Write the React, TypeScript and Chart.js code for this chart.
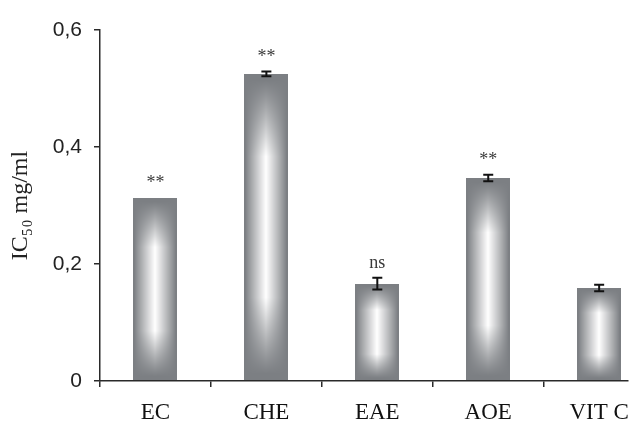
import React, { useEffect, useRef } from "react";
import { Chart, registerables } from "chart.js";

Chart.register(...registerables);

// ---- data ----
const categories = ["EC", "CHE", "EAE", "AOE", "VIT C"];
const ic50 = [0.313, 0.525, 0.1665, 0.347, 0.159];
const sem = [0, 0.004, 0.0102, 0.0055, 0.0057];
const significance = ["**", "**", "ns", "**", ""];
const yTicks = [0, 0.2, 0.4, 0.6];
const yTickLabels = ["0", "0,2", "0,4", "0,6"];
const categoryBoundaries = [0, 1, 2, 3, 4];
const xAxisMax = 4.76; // visible part of the category axis (in category units)

const AXIS_COLOR = "#2a2a2a";

function drawGradientBar(ctx: CanvasRenderingContext2D, left: number, top: number, right: number, bottom: number) {
  const x0 = Math.round(left);
  const y0 = Math.round(top);
  const w = Math.max(1, Math.round(right) - x0);
  const h = Math.max(1, Math.round(bottom) - y0);
  const off = document.createElement("canvas");
  off.width = w;
  off.height = h;
  const octx = off.getContext("2d")!;
  const img = octx.createImageData(w, h);
  const edge = [124, 127, 131];
  for (let yy = 0; yy < h; yy++) {
    const ty = 1 - Math.abs(yy + 0.5 - h / 2) / (h / 2);
    const gy = Math.pow(Math.min(1, Math.max(0, (ty - 0.04) / 0.5)), 1.1);
    for (let xx = 0; xx < w; xx++) {
      const tx = 1 - Math.abs(xx + 0.5 - w / 2) / (w / 2);
      const fx = Math.pow(Math.max(0, (tx - 0.06) / 0.94), 0.95);
      const k = fx * gy;
      const idx = (yy * w + xx) * 4;
      img.data[idx] = Math.round(edge[0] + (255 - edge[0]) * k);
      img.data[idx + 1] = Math.round(edge[1] + (255 - edge[1]) * k);
      img.data[idx + 2] = Math.round(edge[2] + (255 - edge[2]) * k);
      img.data[idx + 3] = 255;
    }
  }
  octx.putImageData(img, 0, 0);
  ctx.drawImage(off, x0, y0);
}

const overlayPlugin = {
  id: "barOverlay",
  afterDatasetsDraw(chart: any) {
    const ctx: CanvasRenderingContext2D = chart.ctx;
    const meta = chart.getDatasetMeta(0);
    const yScale = chart.scales.y;
    ctx.save();
    meta.data.forEach((el: any, i: number) => {
      const p = el.getProps(["x", "y", "base", "width"], true);
      const left = p.x - p.width / 2;
      const right = p.x + p.width / 2;
      drawGradientBar(ctx, left, Math.min(p.y, p.base), right, Math.max(p.y, p.base));

      const v = ic50[i];
      const e = sem[i];
      if (e > 0) {
        const yTop = yScale.getPixelForValue(v + e);
        const yBot = yScale.getPixelForValue(v - e);
        ctx.strokeStyle = "#111";
        ctx.lineWidth = 2;
        ctx.beginPath();
        ctx.moveTo(p.x, yTop);
        ctx.lineTo(p.x, yBot);
        ctx.moveTo(p.x - 5, yTop);
        ctx.lineTo(p.x + 5, yTop);
        ctx.moveTo(p.x - 5, yBot);
        ctx.lineTo(p.x + 5, yBot);
        ctx.stroke();
      }
      const label = significance[i];
      if (label) {
        const yRef = yScale.getPixelForValue(v + e);
        ctx.font = '18px "Liberation Serif"';
        ctx.fillStyle = "#3a3a3a";
        ctx.textAlign = "center";
        ctx.textBaseline = "alphabetic";
        ctx.fillText(label, p.x, yRef - 10);
      }
    });
    ctx.restore();
  },
};

export default function App() {
  const canvasRef = useRef<HTMLCanvasElement | null>(null);

  useEffect(() => {
    if (!canvasRef.current) return;
    const chart = new Chart(canvasRef.current, {
      type: "bar",
      data: {
        datasets: [
          {
            data: categories.map((_, i) => ({ x: i + 0.5, y: ic50[i] })),
            backgroundColor: "rgba(0,0,0,0)",
            borderWidth: 0,
            barThickness: 44,
            xAxisID: "x",
            yAxisID: "y",
          },
        ],
      },
      options: {
        animation: false,
        responsive: false,
        devicePixelRatio: 1,
        layout: { padding: { top: 30, right: 15, left: 0, bottom: 0 } },
        plugins: {
          legend: { display: false },
          tooltip: { enabled: false },
          title: { display: false },
        },
        scales: {
          x: {
            type: "linear",
            position: "bottom",
            offset: false,
            min: 0,
            max: xAxisMax,
            z: 1,
            afterBuildTicks: (scale: any) => {
              scale.ticks = categoryBoundaries.map((v) => ({ value: v }));
            },
            afterFit: (scale: any) => {
              scale.height = 6;
            },
            grid: {
              offset: false,
              drawOnChartArea: false,
              drawTicks: true,
              tickLength: 6,
              color: AXIS_COLOR,
              lineWidth: 1.5,
            },
            border: { display: true, color: AXIS_COLOR, width: 1.5 },
            ticks: { display: false },
          },
          xl: {
            type: "linear",
            position: "bottom",
            offset: false,
            min: 0,
            max: xAxisMax,
            afterBuildTicks: (scale: any) => {
              scale.ticks = categories.map((_, i) => ({ value: i + 0.5 }));
            },
            afterFit: (scale: any) => {
              scale.height = 37;
            },
            grid: { display: false, drawTicks: false, offset: false },
            border: { display: false },
            ticks: {
              autoSkip: false,
              maxRotation: 0,
              padding: 12,
              color: "#111",
              font: { family: '"Liberation Serif"', size: 23 },
              callback: (_v: any, i: number) => categories[i],
            },
          },
          y: {
            type: "linear",
            min: 0,
            max: 0.6,
            z: 1,
            afterBuildTicks: (scale: any) => {
              scale.ticks = yTicks.map((v) => ({ value: v }));
            },
            afterFit: (scale: any) => {
              scale.width = 100;
            },
            grid: {
              drawOnChartArea: false,
              drawTicks: true,
              tickLength: 6,
              color: AXIS_COLOR,
              lineWidth: 1.5,
            },
            border: { display: true, color: AXIS_COLOR, width: 1.5 },
            ticks: {
              padding: 12,
              color: "#222",
              font: { family: '"Liberation Sans"', size: 21 },
              callback: (_v: any, i: number) => yTickLabels[i],
            },
            title: {
              display: true,
              text: "IC₅₀ mg/ml",
              color: "#222",
              font: { family: '"Liberation Serif"', size: 24 },
              padding: { top: 6, bottom: 0 },
            },
          },
        },
      } as any,
      plugins: [overlayPlugin],
    });
    return () => chart.destroy();
  }, []);

  return (
    <div style={{ position: "absolute", left: 0, top: 0, width: 643, height: 424, background: "#fff" }}>
      <canvas ref={canvasRef} width={643} height={424} style={{ display: "block" }} />
    </div>
  );
}
